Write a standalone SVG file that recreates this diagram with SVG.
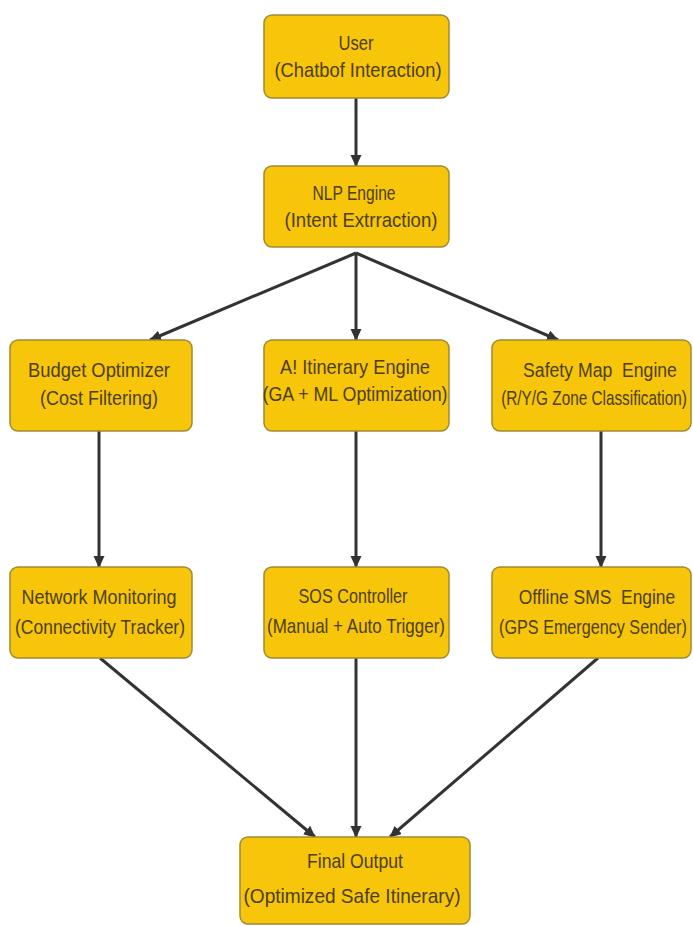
<svg xmlns="http://www.w3.org/2000/svg" width="693" height="926" viewBox="0 0 693 926">
<style>
.box{fill:#f7c50a;stroke:#a08a34;stroke-width:1.5}
.t{font-family:"Liberation Sans Narrow","Liberation Sans",sans-serif;font-size:21px;fill:#4d3f12;text-anchor:middle}
.c{stroke:#333333;stroke-width:3;fill:none;marker-end:url(#ah)}
</style>
<defs>
<marker id="ah" markerUnits="userSpaceOnUse" markerWidth="12" markerHeight="12" refX="11" refY="5.5" orient="auto">
<path d="M0,0 L12,5.5 L0,11 z" fill="#333333"/>
</marker>
</defs>
<rect width="693" height="926" fill="#ffffff"/>
<g id="connectors">
<line class="c" x1="356" y1="98" x2="356" y2="166"/>
<line class="c" x1="356" y1="253" x2="150" y2="340"/>
<line class="c" x1="356" y1="253" x2="356" y2="340"/>
<line class="c" x1="356" y1="253" x2="558" y2="340"/>
<line class="c" x1="99" y1="431" x2="99" y2="567"/>
<line class="c" x1="356" y1="431" x2="356" y2="567"/>
<line class="c" x1="601" y1="431" x2="601" y2="567"/>
<line class="c" x1="100" y1="658" x2="315" y2="837"/>
<line class="c" x1="356" y1="658" x2="356" y2="837"/>
<line class="c" x1="598" y1="658" x2="390" y2="837"/>
</g>
<g id="user">
<rect class="box" x="264" y="15" width="185" height="83" rx="8"/>
<text class="t" x="356" y="50" textLength="35" lengthAdjust="spacingAndGlyphs">User</text>
<text class="t" x="358" y="77" textLength="167" lengthAdjust="spacingAndGlyphs">(Chatbof Interaction)</text>
</g>
<g id="nlp">
<rect class="box" x="264" y="166" width="185" height="81" rx="8"/>
<text class="t" x="354" y="200" textLength="83" lengthAdjust="spacingAndGlyphs">NLP Engine</text>
<text class="t" x="361" y="227" textLength="153" lengthAdjust="spacingAndGlyphs">(Intent Extrraction)</text>
</g>
<g id="budget">
<rect class="box" x="10" y="340" width="182" height="91" rx="8"/>
<text class="t" x="99" y="377" textLength="142" lengthAdjust="spacingAndGlyphs">Budget Optimizer</text>
<text class="t" x="99" y="405" textLength="118" lengthAdjust="spacingAndGlyphs">(Cost Filtering)</text>
</g>
<g id="ai">
<rect class="box" x="264" y="340" width="185" height="91" rx="8"/>
<text class="t" x="355" y="374" textLength="150" lengthAdjust="spacingAndGlyphs">A! Itinerary Engine</text>
<text class="t" x="355" y="401" textLength="185" lengthAdjust="spacingAndGlyphs">(GA + ML Optimization)</text>
</g>
<g id="safety">
<rect class="box" x="492" y="340" width="199" height="91" rx="8"/>
<text class="t" transform="translate(600,377) scale(0.84,1)" xml:space="preserve">Safety Map  Engine</text>
<text class="t" transform="translate(594,405) scale(0.73,1)">(R/Y/G Zone Classification)</text>
</g>
<g id="network">
<rect class="box" x="10" y="567" width="182" height="91" rx="8"/>
<text class="t" x="99" y="604" textLength="155" lengthAdjust="spacingAndGlyphs">Network Monitoring</text>
<text class="t" x="100" y="634" textLength="170" lengthAdjust="spacingAndGlyphs">(Connectivity Tracker)</text>
</g>
<g id="sos">
<rect class="box" x="264" y="567" width="185" height="91" rx="8"/>
<text class="t" x="353" y="603" textLength="109" lengthAdjust="spacingAndGlyphs">SOS Controller</text>
<text class="t" x="356" y="633" textLength="178" lengthAdjust="spacingAndGlyphs">(Manual + Auto Trigger)</text>
</g>
<g id="offline">
<rect class="box" x="492" y="567" width="199" height="91" rx="8"/>
<text class="t" transform="translate(597,604) scale(0.83,1)" xml:space="preserve">Offline SMS  Engine</text>
<text class="t" transform="translate(593,634) scale(0.77,1)">(GPS Emergency Sender)</text>
</g>
<g id="final">
<rect class="box" x="240" y="837" width="230" height="87" rx="8"/>
<text class="t" x="355" y="868" textLength="96" lengthAdjust="spacingAndGlyphs">Final Output</text>
<text class="t" x="352" y="903" textLength="217" lengthAdjust="spacingAndGlyphs">(Optimized Safe Itinerary)</text>
</g>
</svg>
